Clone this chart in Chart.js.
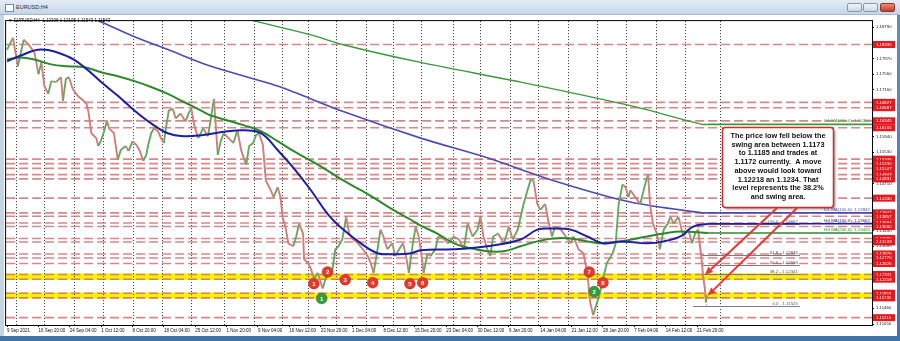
<!DOCTYPE html>
<html lang="en">
<head>
<meta charset="UTF-8">
<title>EURUSD,H4</title>
<style>
  body { margin:0; width:900px; height:341px; overflow:hidden; position:relative;
         background:linear-gradient(#5d8fc2,#3f74aa); font-family:"Liberation Sans", Arial, sans-serif; }
  .titlebar { position:absolute; left:0; top:0; width:900px; height:15px; box-sizing:border-box;
              background:linear-gradient(#e3ecf5,#c6d5e5); border-bottom:1px solid #a6b8cb; }
  .titlebar .icon { position:absolute; left:5px; top:4px; width:7px; height:6px; border:1px solid #6f8aa8; background:#fff; }
  .titlebar .name { position:absolute; left:16px; top:4px; font-size:5.5px; color:#1f2d3d; }
  .btn { position:absolute; top:3px; width:15px; height:9px; box-sizing:border-box; border:1px solid #8598b0;
         border-radius:2px; background:linear-gradient(#f3f6fa,#cbd7e4); }
  .btn.close { background:linear-gradient(#ec8a76,#c4402b); border-color:#8e3424; }
  #wrap { position:absolute; left:0; top:15px; width:897px; height:321px; }
</style>
</head>
<body>
<div class="titlebar">
  <div class="icon"></div>
  <div class="name">EURUSD,H4</div>
  <div class="btn" style="left:847px"></div>
  <div class="btn" style="left:863px"></div>
  <div class="btn close" style="left:880px"></div>
</div>
<div id="wrap"><canvas id="chart" width="897" height="321"></canvas></div>

<script src="https://cdn.jsdelivr.net/npm/chart.js"></script>
<script>
// H4 bars counted from the first visible bar (9 Sep 2021)
const xTickBars = [0, 32, 64, 96, 128, 160, 192, 224, 256, 288, 320, 352, 384, 416, 448, 480, 512, 544, 576, 608, 640, 672, 704];
const xTickLabels = ['9 Sep 2021', '16 Sep 20:00', '24 Sep 04:00', '1 Oct 12:00', '8 Oct 20:00', '18 Oct 04:00',
  '25 Oct 12:00', '1 Nov 20:00', '9 Nov 04:00', '16 Nov 12:00', '23 Nov 20:00', '1 Dec 04:00', '8 Dec 12:00',
  '15 Dec 20:00', '23 Dec 04:00', '30 Dec 12:00', '6 Jan 20:00', '14 Jan 04:00', '21 Jan 12:00', '28 Jan 20:00',
  '7 Feb 04:00', '14 Feb 12:00', '21 Feb 20:00'];
const weekStartBars = [9, 38, 68, 98, 128, 158, 188, 221, 252, 280, 307, 336, 366, 394, 422, 455, 483, 513, 542, 572, 602, 632, 662, 692, 727];
const yTicks = [1.18790, 1.18380, 1.17970, 1.17560, 1.17160, 1.16750, 1.16340, 1.15940, 1.15530, 1.15120, 1.14710,
  1.14300, 1.13900, 1.13490, 1.13080, 1.12670, 1.12260, 1.11860, 1.11460, 1.11050];

const priceBars = [
  0, 6, 11, 17, 22, 28, 32, 35, 38, 42,
  45, 50, 55, 57, 60, 63, 67, 72, 78, 81,
  83, 86, 91, 93, 96, 99, 102, 104, 109, 113,
  116, 121, 124, 128, 132, 135, 139, 142, 144, 147,
  150, 154, 157, 160, 162, 165, 169, 172, 177, 182,
  186, 188, 191, 195, 200, 205, 208, 211, 215, 218,
  221, 226, 231, 235, 239, 244, 247, 251, 254, 257,
  261, 264, 269, 272, 276, 279, 281, 284, 287, 292,
  295, 298, 302, 303, 307, 310, 313, 317, 322, 325,
  328, 332, 335, 338, 342, 346, 349, 353, 358, 363,
  368, 371, 374, 378, 381, 384, 388, 393, 396, 400,
  404, 407, 410, 414, 417, 420, 422, 425, 429, 432,
  437, 440, 445, 450, 456, 461, 466, 470, 475, 480,
  483, 486, 490, 493, 496, 501, 507, 512, 516, 521,
  524, 527, 531, 534, 537, 541, 544, 549, 552, 556,
  559, 565, 570, 575, 578, 583, 588, 592, 595, 598,
  602, 605, 608, 612, 618, 621, 624, 628, 631, 634,
  636, 641, 646, 651, 654, 656, 659, 663, 666, 670,
  674, 677, 680, 685, 690, 695, 699, 702, 705, 707,
  709, 710, 712, 713, 714, 715];
const priceClose = [
  1.18201, 1.18508, 1.17765, 1.18457, 1.18329, 1.18124, 1.17560, 1.17868, 1.17252, 1.17047,
  1.17380, 1.17355, 1.17483, 1.16868, 1.17432, 1.17483, 1.17176, 1.16996, 1.16868, 1.16791,
  1.16586, 1.16022, 1.15894, 1.15689, 1.15843, 1.16073, 1.16355, 1.16150, 1.16022, 1.15330,
  1.15586, 1.15689, 1.15561, 1.15817, 1.15715, 1.15586, 1.15305, 1.15458, 1.15715, 1.16022,
  1.16150, 1.16073, 1.15894, 1.15766, 1.16150, 1.16612, 1.16663, 1.16407, 1.16535, 1.16330,
  1.16586, 1.16663, 1.16227, 1.15894, 1.16150, 1.15945, 1.16407, 1.16919, 1.15458, 1.15817,
  1.16022, 1.15894, 1.15766, 1.16099, 1.15561, 1.15202, 1.15689, 1.15766, 1.15971, 1.16022,
  1.15715, 1.14792, 1.14536, 1.14356, 1.14613, 1.14356, 1.13844, 1.13587, 1.13152, 1.13075,
  1.13331, 1.13664, 1.13408, 1.12741, 1.12639, 1.12485, 1.12229, 1.12383, 1.11973, 1.12229,
  1.12383, 1.12485, 1.12998, 1.13075, 1.13254, 1.13844, 1.13408, 1.13254, 1.13152, 1.12998,
  1.12819, 1.12639, 1.12383, 1.12998, 1.13510, 1.13331, 1.12998, 1.13152, 1.12819, 1.12998,
  1.13152, 1.12819, 1.12383, 1.13152, 1.13587, 1.13331, 1.12998, 1.12383, 1.12895, 1.12819,
  1.12998, 1.13331, 1.13280, 1.13152, 1.13331, 1.13254, 1.12998, 1.13664, 1.13331, 1.13510,
  1.13844, 1.13331, 1.12998, 1.12819, 1.13331, 1.13408, 1.13152, 1.13587, 1.13254, 1.13510,
  1.13844, 1.14177, 1.14536, 1.14792, 1.14792, 1.14177, 1.14023, 1.14177, 1.13767, 1.13331,
  1.13587, 1.13510, 1.13331, 1.13152, 1.13331, 1.12998, 1.12895, 1.12383, 1.11614, 1.11281,
  1.11614, 1.11870, 1.12229, 1.12639, 1.12895, 1.13152, 1.14177, 1.14690, 1.14613, 1.14356,
  1.14536, 1.14356, 1.14177, 1.14690, 1.14946, 1.14177, 1.13664, 1.13408, 1.12998, 1.13510,
  1.13664, 1.13844, 1.13664, 1.13844, 1.13331, 1.13510, 1.13152, 1.13408, 1.13510, 1.13075,
  1.12639, 1.12306, 1.11973, 1.11614, 1.11793, 1.11717];

const h4Ma100Bars = [0, 14, 35, 62, 79, 96, 113, 130, 147, 164, 180, 198, 225, 242, 259, 276, 292, 310, 327, 343,
  361, 378, 394, 412, 422, 456, 490, 524, 541, 557, 575, 592, 608, 626, 653, 670, 687, 700, 715];
const h4Ma100 = [1.17893, 1.18048, 1.18201, 1.18021, 1.17739, 1.17355, 1.16996, 1.16612, 1.16278, 1.16022,
  1.15945, 1.15971, 1.16073, 1.16099, 1.16022, 1.15586, 1.15125, 1.14536, 1.13921, 1.13510,
  1.13152, 1.12895, 1.12870, 1.12895, 1.12972, 1.12998, 1.13075, 1.13254, 1.13510, 1.13536,
  1.13510, 1.13331, 1.13152, 1.13203, 1.13152, 1.13203, 1.13331, 1.13587, 1.13662];
const h4Ma200Bars = [0, 14, 28, 45, 62, 79, 96, 113, 130, 147, 164, 180, 198, 208, 225, 242, 259, 276, 292, 310,
  327, 343, 361, 378, 394, 412, 422, 439, 456, 473, 490, 507, 524, 541, 557, 575, 592, 608, 626, 653, 670, 687, 715];
const h4Ma200 = [1.17944, 1.17996, 1.17944, 1.17816, 1.17765, 1.17739, 1.17611, 1.17509, 1.17380, 1.17227,
  1.17047, 1.16842, 1.16612, 1.16483, 1.16355, 1.16227, 1.16073, 1.15817, 1.15561, 1.15305,
  1.15048, 1.14792, 1.14536, 1.14279, 1.14023, 1.13767, 1.13613, 1.13408, 1.13152, 1.13024,
  1.12947, 1.12947, 1.13075, 1.13203, 1.13280, 1.13280, 1.13203, 1.13152, 1.13203, 1.13331,
  1.13408, 1.13459, 1.13420];
const d1Ma100Bars = [85, 130, 164, 208, 276, 343, 422, 490, 557, 636, 709, 715];
const d1Ma100 = [1.19050, 1.18534, 1.18201, 1.17765, 1.17252, 1.16586, 1.15894, 1.15381, 1.14792, 1.14228, 1.13947, 1.13947];
const d1Ma200Bars = [236, 310, 343, 422, 524, 636, 709, 715];
const d1Ma200 = [1.19050, 1.18585, 1.18329, 1.17867, 1.17355, 1.16740, 1.16253, 1.16253];

const levelPrices = [1.18335, 1.16827, 1.16687, 1.16345, 1.16165, 1.15346, 1.15230, 1.15107, 1.14943, 1.14831,
  1.14330, 1.13947, 1.13857, 1.13684, 1.13590, 1.13280, 1.13189, 1.12876, 1.12770, 1.12626,
  1.12341, 1.12218, 1.11853, 1.11731, 1.11215];
const bandTop = [1.12365, 1.11870];
const bandBottom = [1.12200, 1.11715];

const fibNames = ['100.0', '61.8', '50.0', '38.2', '0.0'];
const fibPrices = [1.13662, 1.12846, 1.12594, 1.12341, 1.11525];
const fibStartBars = [704, 709, 710, 709, 700];
const fibEndBar = 809;

const markerBars = [313, 327, 345, 373, 411, 424, 594, 608, 321, 599];
const markerPrices = [1.12101, 1.12408, 1.12203, 1.12126, 1.12101, 1.12126, 1.12408, 1.12126, 1.11716, 1.11896];
const markerLabels = ['1', '2', '3', '4', '5', '6', '7', '8', '1', '2'];
const markerColors = ['#e5392d', '#e5392d', '#e5392d', '#e5392d', '#e5392d', '#e5392d', '#e5392d', '#e5392d', '#2f9d3b', '#2f9d3b'];

const calloutBars = [712, 715];
const calloutPrices = [1.12331, 1.11793];
const calloutText = ['The price low fell below the', 'swing area between 1.1173', 'to 1.1185 and trades at',
  '1.1172 currently.  A move', 'above would look toward', '1.12218 an 1.1234. That',
  'level represents the 38.2%', 'and swing area.'];

const FONT = '"Liberation Sans", Arial, sans-serif';
const pts = (xs, ys) => xs.map((x, i) => ({ x: x, y: ys[i] }));

function arrow(ctx, x0, y0, x1, y1) {
  const a = Math.atan2(y1 - y0, x1 - x0);
  const head = 8;
  ctx.beginPath();
  ctx.moveTo(x0, y0);
  ctx.lineTo(x1 - head * Math.cos(a), y1 - head * Math.sin(a));
  ctx.stroke();
  ctx.beginPath();
  ctx.moveTo(x1, y1);
  ctx.lineTo(x1 - head * Math.cos(a) + 3.5 * Math.sin(a), y1 - head * Math.sin(a) - 3.5 * Math.cos(a));
  ctx.lineTo(x1 - head * Math.cos(a) - 3.5 * Math.sin(a), y1 - head * Math.sin(a) + 3.5 * Math.cos(a));
  ctx.closePath();
  ctx.fill();
}

const overlay = {
  id: 'overlay',
  beforeDraw(chart) {
    const ctx = chart.ctx;
    ctx.save();
    ctx.fillStyle = '#fff';
    ctx.fillRect(0, 0, chart.width, chart.height);
    ctx.fillStyle = '#c5d4e3';
    ctx.fillRect(0, 0, 4, chart.height);
    ctx.restore();
  },
  beforeDatasetsDraw(chart) {
    const { ctx, chartArea: a, scales: { x, y } } = chart;
    ctx.save();
    ctx.beginPath();
    ctx.rect(a.left, a.top, a.right - a.left, a.bottom - a.top);
    ctx.clip();
    // yellow swing zones
    ctx.fillStyle = '#f6f100';
    bandTop.forEach((t, i) => {
      const y0 = y.getPixelForValue(t), y1 = y.getPixelForValue(bandBottom[i]);
      ctx.fillRect(a.left, y0, a.right - a.left, y1 - y0);
    });
    // weekly separators
    ctx.strokeStyle = '#333';
    ctx.lineWidth = 1;
    ctx.setLineDash([1, 2]);
    weekStartBars.forEach(b => {
      const px = Math.round(x.getPixelForValue(b)) + 0.5;
      ctx.beginPath(); ctx.moveTo(px, a.top); ctx.lineTo(px, a.bottom); ctx.stroke();
    });
    // horizontal levels
    ctx.strokeStyle = 'rgba(205,105,105,0.8)';
    ctx.lineWidth = 1.6;
    ctx.setLineDash([9, 4]);
    levelPrices.forEach(p => {
      const py = y.getPixelForValue(p);
      ctx.beginPath(); ctx.moveTo(a.left, py); ctx.lineTo(a.right, py); ctx.stroke();
    });
    // fibonacci retracement
    ctx.setLineDash([]);
    ctx.strokeStyle = '#7d7d7d';
    ctx.lineWidth = 1;
    ctx.fillStyle = '#555';
    ctx.font = '4.4px ' + FONT;
    ctx.textAlign = 'right';
    ctx.textBaseline = 'bottom';
    fibPrices.forEach((p, i) => {
      const py = Math.round(y.getPixelForValue(p)) + 0.5;
      const xe = x.getPixelForValue(fibEndBar);
      ctx.beginPath(); ctx.moveTo(x.getPixelForValue(fibStartBars[i]), py); ctx.lineTo(xe, py); ctx.stroke();
      ctx.fillText(fibNames[i] + ' - ' + p.toFixed(5), xe - 2, py - 1);
    });
    ctx.strokeStyle = '#d05a5a';
    ctx.setLineDash([1, 2]);
    ctx.beginPath();
    ctx.moveTo(x.getPixelForValue(705), y.getPixelForValue(fibPrices[0]));
    ctx.lineTo(x.getPixelForValue(714), y.getPixelForValue(fibPrices[4]));
    ctx.stroke();
    ctx.restore();
  },
  afterDatasetsDraw(chart) {
    const { ctx, chartArea: a, scales: { x, y } } = chart;
    ctx.save();
    // moving average values carried to the right edge
    const maTags = [
      ['D1 MA(200,0): ', d1Ma200, d1Ma200Bars, '#3a9a3a'],
      ['D1 MA(100,0): ', d1Ma100, d1Ma100Bars, '#4b4bb5'],
      ['H4 MA(100,0): ', h4Ma100, h4Ma100Bars, '#1b1fa3'],
      ['H4 MA(200,0): ', h4Ma200, h4Ma200Bars, '#2b8a2b']
    ];
    ctx.font = '4.4px ' + FONT;
    ctx.textAlign = 'right';
    ctx.textBaseline = 'bottom';
    maTags.forEach(([name, vals, bars, col]) => {
      const v = vals[vals.length - 1];
      const py = y.getPixelForValue(v);
      ctx.strokeStyle = col;
      ctx.lineWidth = 1.6;
      ctx.beginPath(); ctx.moveTo(x.getPixelForValue(bars[bars.length - 1]), py); ctx.lineTo(a.right, py); ctx.stroke();
      ctx.fillStyle = col;
      ctx.fillText(name + v.toFixed(5), a.right - 2, py - 1);
    });
    // numbered swing markers
    const meta = chart.getDatasetMeta(0);
    ctx.fillStyle = '#fff';
    ctx.font = 'bold 6px ' + FONT;
    ctx.textAlign = 'center';
    ctx.textBaseline = 'middle';
    meta.data.forEach((el, i) => ctx.fillText(markerLabels[i], el.x, el.y + 0.5));
    // symbol line
    ctx.fillStyle = '#111';
    ctx.font = '4.5px ' + FONT;
    ctx.textAlign = 'left';
    ctx.fillText('\u25BC EURUSD,H4  1.12106 1.12105 1.11543 1.11543', 8, 5.5);
    // callout box
    ctx.save();
    ctx.shadowColor = 'rgba(0,0,0,0.35)';
    ctx.shadowOffsetX = 2; ctx.shadowOffsetY = 2; ctx.shadowBlur = 2;
    ctx.beginPath();
    ctx.roundRect(722.5, 112.5, 111, 80, 3);
    ctx.fillStyle = '#fff';
    ctx.fill();
    ctx.restore();
    ctx.strokeStyle = '#d42a2a';
    ctx.lineWidth = 1.5;
    ctx.stroke();
    ctx.fillStyle = '#111';
    ctx.font = 'bold 7.3px ' + FONT;
    ctx.textAlign = 'center';
    calloutText.forEach((t, i) => ctx.fillText(t, 778, 121 + i * 8.7));
    ctx.strokeStyle = '#e53935';
    ctx.fillStyle = '#e53935';
    ctx.lineWidth = 2;
    const starts = [777, 797];
    calloutBars.forEach((b, i) => arrow(ctx, starts[i], 193, x.getPixelForValue(b), y.getPixelForValue(calloutPrices[i])));
    // chart frame
    ctx.strokeStyle = '#000';
    ctx.lineWidth = 1;
    ctx.strokeRect(a.left - 0.5, a.top - 0.5, a.right - a.left + 1, a.bottom - a.top + 1);
    // price tags on the axis
    ctx.font = '4.3px ' + FONT;
    ctx.textAlign = 'left';
    levelPrices.forEach(p => {
      const py = y.getPixelForValue(p);
      ctx.fillStyle = '#e2191f';
      ctx.fillRect(a.right + 1, py - 3.5, 22, 7);
      ctx.fillStyle = '#fff';
      ctx.fillText(p.toFixed(5), a.right + 4, py + 0.3);
    });
    ctx.restore();
  }
};

new Chart(document.getElementById('chart'), {
  type: 'line',
  data: {
    datasets: [
      {
        type: 'scatter',
        data: pts(markerBars, markerPrices),
        pointRadius: 5.5,
        pointBackgroundColor: markerColors,
        pointBorderColor: 'rgba(120,20,20,0.5)',
        pointBorderWidth: 0.6
      },
      { data: pts(h4Ma100Bars, h4Ma100), borderColor: '#1b1fa3', borderWidth: 2, pointRadius: 0, tension: 0.4 },
      { data: pts(h4Ma200Bars, h4Ma200), borderColor: '#2b8a2b', borderWidth: 2, pointRadius: 0, tension: 0.4 },
      {
        data: pts(priceBars, priceClose),
        borderWidth: 1.9,
        pointRadius: 0,
        tension: 0,
        segment: {
          borderColor: c => c.p1.parsed.y >= c.p0.parsed.y ? '#66a862' : '#cf7f7c'
        }
      },
      { data: pts(d1Ma100Bars, d1Ma100), borderColor: '#4b4bb5', borderWidth: 1.6, pointRadius: 0, tension: 0.3 },
      { data: pts(d1Ma200Bars, d1Ma200), borderColor: '#3a9a3a', borderWidth: 1.4, pointRadius: 0, tension: 0.3 }
    ]
  },
  options: {
    responsive: false,
    animation: false,
    devicePixelRatio: 1,
    layout: { padding: { left: 5, top: 1, right: 0, bottom: 0 } },
    plugins: { legend: { display: false }, tooltip: { enabled: false } },
    scales: {
      x: {
        type: 'linear',
        min: -1,
        max: 882.5,
        afterBuildTicks: s => { s.ticks = xTickBars.map(v => ({ value: v })); },
        afterFit: s => { s.height = 11; s.paddingLeft = 0; s.paddingRight = 0; },
        grid: { drawOnChartArea: false, tickLength: 2, color: '#000' },
        border: { display: false },
        ticks: {
          autoSkip: false, maxRotation: 0, minRotation: 0, align: 'start', padding: 1,
          color: '#111', font: { family: FONT, size: 4.5 },
          callback: (v, i) => xTickLabels[i]
        }
      },
      y: {
        type: 'linear',
        position: 'right',
        min: 1.11024,
        max: 1.18944,
        afterBuildTicks: s => { s.ticks = yTicks.map(v => ({ value: v })); },
        afterFit: s => { s.width = 25; s.paddingTop = 0; s.paddingBottom = 0; },
        grid: { drawOnChartArea: false, tickLength: 2, color: '#000' },
        border: { display: false },
        ticks: {
          autoSkip: false, padding: 2, crossAlign: 'near',
          color: '#222', font: { family: FONT, size: 4.3 },
          callback: v => v.toFixed(5)
        }
      }
    }
  },
  plugins: [overlay]
});
</script>
</body>
</html>
